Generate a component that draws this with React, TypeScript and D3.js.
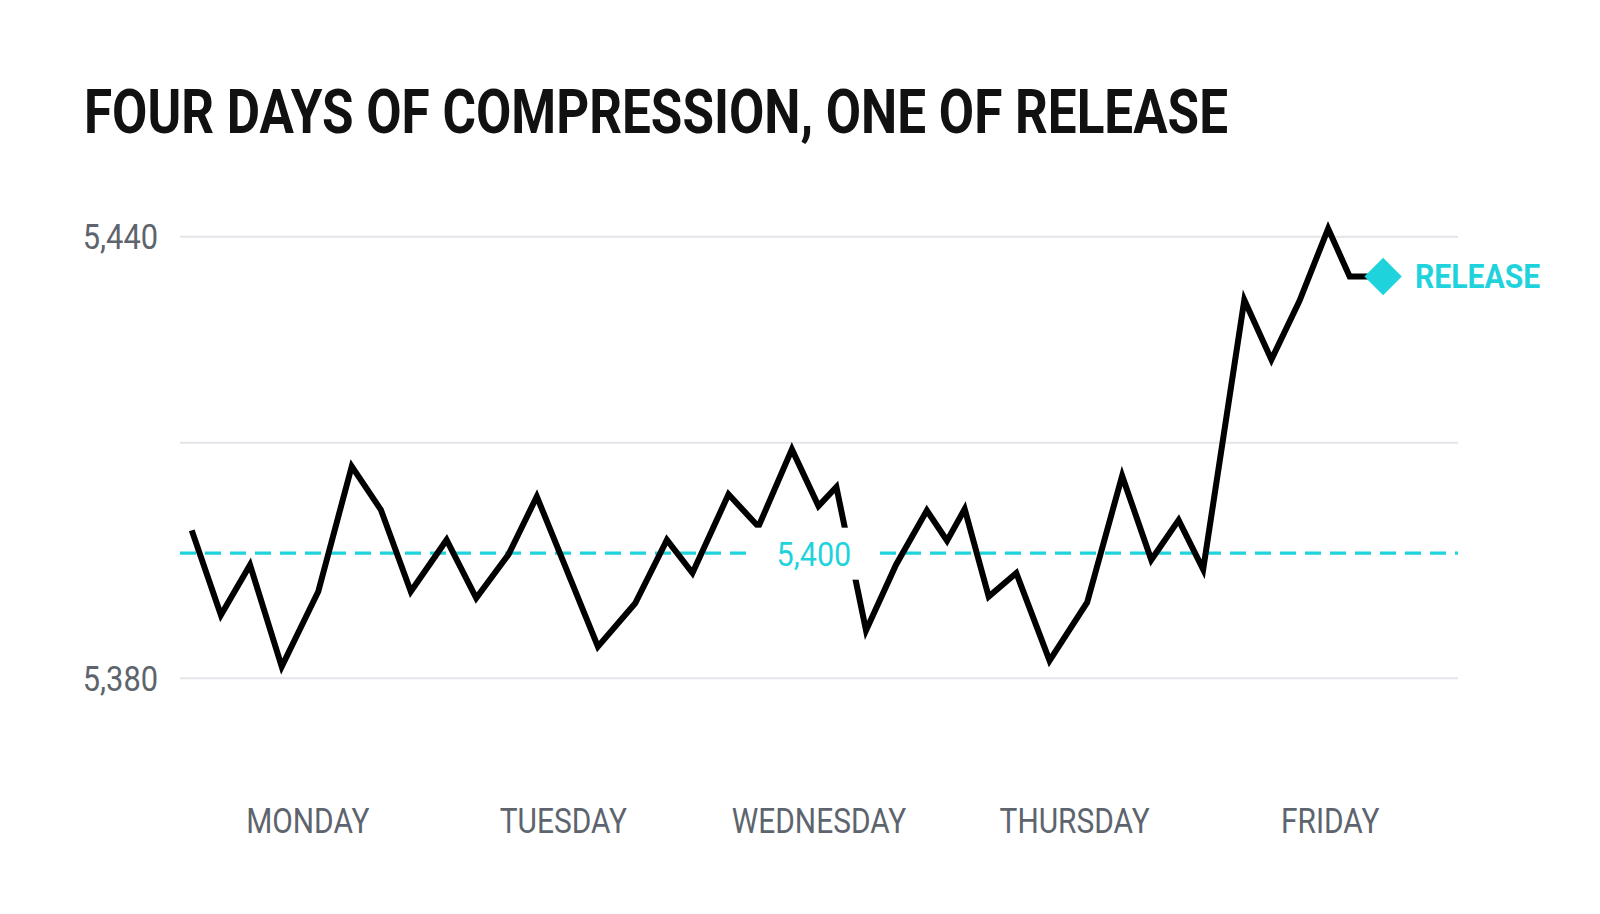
import * as d3 from 'd3';

const WIDTH = 1600;
const HEIGHT = 914;

// x is measured in trading days from Monday's open
const DAYS = ['MONDAY', 'TUESDAY', 'WEDNESDAY', 'THURSDAY', 'FRIDAY'];

const TIMES = [
    0.046, 0.160, 0.274, 0.398, 0.541, 0.672, 0.786, 0.903,
    1.043, 1.159, 1.285, 1.396, 1.635, 1.781, 1.905,
    2.005, 2.146, 2.263, 2.394, 2.498, 2.568, 2.684, 2.801, 2.922,
    3.001, 3.070, 3.164, 3.272, 3.402, 3.549, 3.686, 3.800, 3.907,
    4.003, 4.164, 4.270, 4.380, 4.492, 4.576, 4.707,
];

const PRICES = [
    5400.1, 5388.6, 5395.4, 5381.6, 5391.8, 5408.8, 5402.9, 5391.8,
    5398.8, 5390.9, 5396.8, 5404.7, 5384.3, 5390.2, 5398.8,
    5394.3, 5405.0, 5400.6, 5411.1, 5403.4, 5406.0, 5386.5, 5395.4, 5402.8,
    5398.7, 5403.0, 5391.1, 5394.3, 5382.4, 5390.3, 5407.5, 5396.1, 5401.5,
    5394.8, 5431.4, 5423.3, 5431.3, 5441.1, 5434.6, 5434.6,
];

const GRID_VALUES = [5380, 5412, 5440];
const AXIS_TICKS = [5380, 5440];
const LEVEL = 5397;
const LEVEL_LABEL = '5,400';
const LEVEL_LABEL_AT = 2.48;

const TITLE = 'FOUR DAYS OF COMPRESSION, ONE OF RELEASE';
const END_LABEL = 'RELEASE';

const CYAN = '#1fd3dd';
const GREY_TEXT = '#5d646d';
const GRID = '#e3e5e9';

const xScale = d3.scaleLinear().domain([0, 5]).range([180, 1458]);
const yScale = d3.scaleLinear().domain([5380, 5440]).range([678.3, 236.7]);

const points = TIMES.map((t, i) => ({ t, v: PRICES[i] }));

const linePath = d3.line<{ t: number; v: number }>()
    .x(d => xScale(d.t))
    .y(d => yScale(d.v))(points);

const diamond = d3.symbol(d3.symbolSquare, 700)();

const numFmt = d3.format(',');

const App = () => {
    const last = points[points.length - 1];
    const lx = xScale(last.t);
    const ly = yScale(last.v);
    const levelY = yScale(LEVEL);
    const labelX = xScale(LEVEL_LABEL_AT);

    return (
        <svg
            width={WIDTH}
            height={HEIGHT}
            style={{ position: 'absolute', left: 0, top: 0, background: '#fff' }}
            fontFamily="Roboto, 'Noto Sans', sans-serif"
        >
            <rect width={WIDTH} height={HEIGHT} fill="#fff" />

            <text
                x={84}
                y={132.5}
                fontSize={61}
                fontWeight={700}
                fill="#111"
                textLength={1144}
                lengthAdjust="spacingAndGlyphs"
            >
                {TITLE}
            </text>

            {/* gridlines */}
            {GRID_VALUES.map(v => (
                <line
                    key={v}
                    x1={xScale(0)}
                    x2={xScale(5)}
                    y1={yScale(v)}
                    y2={yScale(v)}
                    stroke={GRID}
                    strokeWidth={2}
                />
            ))}

            {AXIS_TICKS.map(v => (
                <g key={v} transform={`translate(158, ${yScale(v) + 12.5}) scale(0.88, 1)`}>
                    <text textAnchor="end" fontSize={35} fill={GREY_TEXT}>
                        {numFmt(v)}
                    </text>
                </g>
            ))}

            {/* reference level */}
            <line
                x1={xScale(0)}
                x2={xScale(5)}
                y1={levelY}
                y2={levelY}
                stroke={CYAN}
                strokeWidth={3.2}
                strokeDasharray="16 9"
            />

            <path d={linePath} fill="none" stroke="#000" strokeWidth={6} strokeLinejoin="miter" />

            {/* label knocks out the lines behind it */}
            <rect x={labelX - 60} y={levelY - 25.5} width={120} height={52} fill="#fff" />
            <g transform={`translate(${labelX}, ${levelY + 12.5}) scale(0.9, 1)`}>
                <text textAnchor="middle" fontSize={34} fill={CYAN}>
                    {LEVEL_LABEL}
                </text>
            </g>

            <path d={diamond} transform={`translate(${lx}, ${ly}) rotate(45)`} fill={CYAN} />
            <text
                x={lx + 32}
                y={ly + 12}
                fontSize={34}
                fontWeight={700}
                fill={CYAN}
                textLength={125}
                lengthAdjust="spacingAndGlyphs"
            >
                {END_LABEL}
            </text>

            {DAYS.map((d, i) => (
                <g key={d} transform={`translate(${xScale(i + 0.5)}, 833) scale(0.83, 1)`}>
                    <text textAnchor="middle" fontSize={36} fill={GREY_TEXT}>
                        {d}
                    </text>
                </g>
            ))}
        </svg>
    );
};

export default App;
